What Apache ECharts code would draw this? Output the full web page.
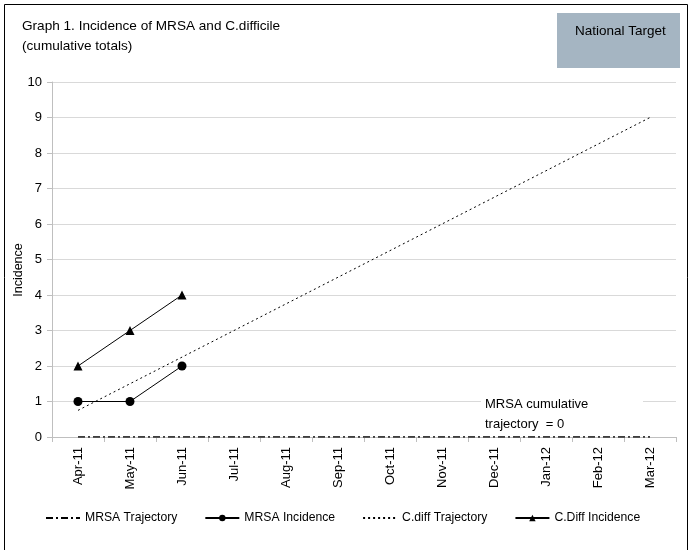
<!DOCTYPE html>
<html><head><meta charset="utf-8">
<script src="https://cdn.jsdelivr.net/npm/echarts@6/dist/echarts.min.js"></script>
<style>html,body{margin:0;padding:0;background:#fff}#c{width:690px;height:550px}</style>
</head><body><div id="c"></div>
<script>
const categories = ['Apr-11','May-11','Jun-11','Jul-11','Aug-11','Sep-11','Oct-11','Nov-11','Dec-11','Jan-12','Feb-12','Mar-12'];
const mrsaTrajectory = [0,0,0,0,0,0,0,0,0,0,0,0];
const mrsaIncidence = [1,1,2];
const cdiffTrajectory = [0.75,1.5,2.25,3,3.75,4.5,5.25,6,6.75,7.5,8.25,9];
const cdiffIncidence = [2,3,4];
const yTicks = [0,1,2,3,4,5,6,7,8,9,10];

const FONT = 'Liberation Sans';
const chart = echarts.init(document.getElementById('c'));
chart.setOption({
  animation: false,
  textStyle: {fontFamily: FONT, color: '#000'},
  grid: {left: 52, top: 82, right: 14, bottom: 113, containLabel: false, outerBoundsMode: 'none'},
  graphic: [
    {type: 'rect', shape: {x: 4.5, y: 4.5, width: 683, height: 550}, style: {fill: 'none', stroke: '#000', lineWidth: 1}, z: 100},
    {type: 'rect', shape: {x: 557, y: 13, width: 123, height: 55}, style: {fill: '#a5b5c2'}},
    {type: 'text', left: 575, top: 24, style: {text: 'National Target', font: '13.5px ' + FONT, fill: '#000'}},
    {type: 'text', left: 22, top: 16, style: {text: 'Graph 1. Incidence of MRSA and C.difficile\n(cumulative totals)', font: '13.6px ' + FONT, lineHeight: 20, fill: '#000'}},
    {type: 'text', x: 19, y: 270, rotation: Math.PI / 2, style: {text: 'Incidence', font: '12.5px ' + FONT, fill: '#000', align: 'center', verticalAlign: 'middle'}},
    {type: 'rect', shape: {x: 481, y: 391, width: 162, height: 42}, style: {fill: '#fff'}, z: 50},
    {type: 'text', left: 485, top: 394, z: 51, style: {text: 'MRSA cumulative\ntrajectory  = 0', font: '13px ' + FONT, lineHeight: 20, fill: '#000'}}
  ],
  legend: {
    top: 507, left: 40, itemWidth: 34, itemHeight: 8, itemGap: 27,
    textStyle: {fontFamily: FONT, fontSize: 12.2, color: '#000'},
    data: [
      {name: 'MRSA Trajectory', itemStyle: {opacity: 0}},
      'MRSA Incidence',
      {name: 'C.diff Trajectory', itemStyle: {opacity: 0}},
      'C.Diff Incidence'
    ]
  },
  xAxis: {
    type: 'category', data: categories, boundaryGap: true,
    axisLine: {lineStyle: {color: '#bfbfbf'}},
    axisTick: {show: true, length: 5, lineStyle: {color: '#bfbfbf'}},
    axisLabel: {rotate: 90, fontSize: 13, color: '#000', margin: 10, fontFamily: FONT}
  },
  yAxis: {
    type: 'value', min: 0, max: 10, interval: 1,
    axisLine: {show: true, lineStyle: {color: '#bfbfbf'}},
    axisTick: {show: true, length: 5, lineStyle: {color: '#bfbfbf'}},
    axisLabel: {fontSize: 13, color: '#000', margin: 10, fontFamily: FONT},
    splitLine: {lineStyle: {color: '#d9d9d9'}}
  },
  series: [
    {name: 'MRSA Trajectory', type: 'line', data: mrsaTrajectory, symbol: 'none', z: 3,
     lineStyle: {color: '#000', width: 1.5, type: [7,3,2,3]}, itemStyle: {color: '#000'}},
    {name: 'MRSA Incidence', type: 'line', data: mrsaIncidence, symbol: 'circle', symbolSize: 9,
     lineStyle: {color: '#000', width: 1}, itemStyle: {color: '#000'}},
    {name: 'C.diff Trajectory', type: 'line', data: cdiffTrajectory, symbol: 'none',
     lineStyle: {color: '#000', width: 1, type: [2,3]}, itemStyle: {color: '#000'}},
    {name: 'C.Diff Incidence', type: 'line', data: cdiffIncidence, symbol: 'triangle', symbolSize: 9,
     lineStyle: {color: '#000', width: 1}, itemStyle: {color: '#000'}}
  ]
});
</script></body></html>
